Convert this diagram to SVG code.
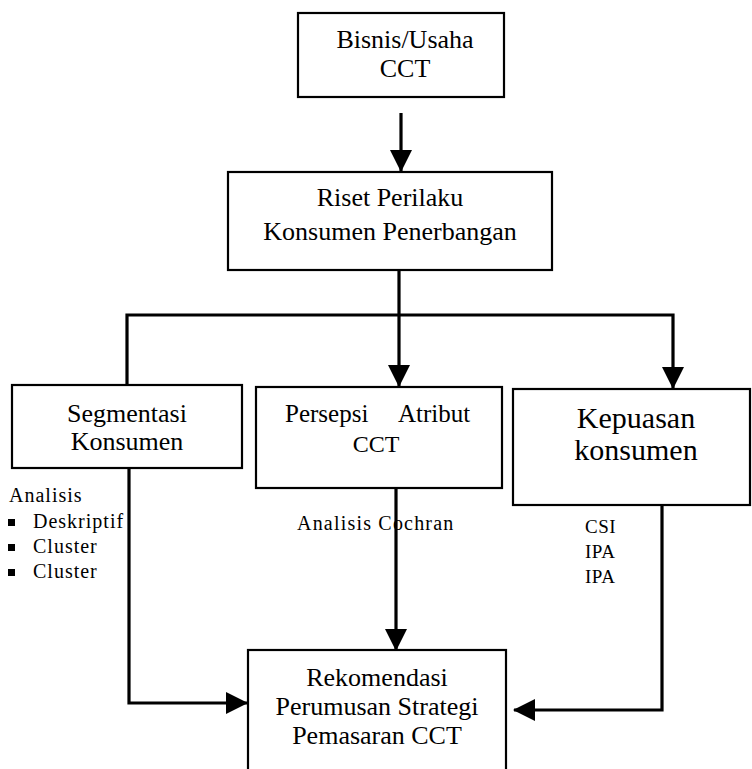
<svg xmlns="http://www.w3.org/2000/svg" width="752" height="769" viewBox="0 0 752 769">
<style>
.box{fill:#fff;stroke:#000;stroke-width:2.2}
.t{font-family:"Liberation Serif","Times New Roman",serif;fill:#000;text-anchor:middle}
.s{font-family:"Liberation Serif","Times New Roman",serif;fill:#000;font-size:20px;letter-spacing:1px}
.c{fill:none;stroke:#000;stroke-width:3.2}
</style>
<defs>
<marker id="ah" markerUnits="userSpaceOnUse" markerWidth="22" markerHeight="22" viewBox="0 0 22 22" refX="21" refY="11" orient="auto">
<polygon points="0,0 22,11 0,22" fill="#000"/>
</marker>
</defs>
<rect width="752" height="769" fill="#fff"/>
<g id="connectors">
<line class="c" x1="401" y1="113" x2="401" y2="171" marker-end="url(#ah)"/>
<line class="c" x1="399" y1="270" x2="399" y2="386" marker-end="url(#ah)"/>
<polyline class="c" points="127,384 127,315 673,315 673,388" marker-end="url(#ah)"/>
<polyline class="c" points="129,468 129,703 247,703" marker-end="url(#ah)"/>
<line class="c" x1="396" y1="488" x2="396" y2="650" marker-end="url(#ah)"/>
<polyline class="c" points="662,505 662,710 514,710" marker-end="url(#ah)"/>
</g>
<g id="n-bisnis">
<rect class="box" x="298" y="13" width="206" height="84"/>
<text class="t" x="405" y="48" font-size="26">Bisnis/Usaha</text>
<text class="t" x="405" y="77" font-size="26">CCT</text>
</g>
<g id="n-riset">
<rect class="box" x="228" y="172" width="324" height="98"/>
<text class="t" x="390" y="206" font-size="26">Riset Perilaku</text>
<text class="t" x="390" y="240" font-size="26">Konsumen Penerbangan</text>
</g>
<g id="n-segmentasi">
<rect class="box" x="12" y="385" width="230" height="83"/>
<text class="t" x="127" y="422" font-size="26">Segmentasi</text>
<text class="t" x="127" y="450" font-size="26">Konsumen</text>
</g>
<g id="n-persepsi">
<rect class="box" x="256" y="387" width="246" height="101"/>
<text font-family="Liberation Serif, Times New Roman, serif" font-size="25" fill="#000"><tspan x="285" y="422">Persepsi</tspan><tspan x="398" y="422">Atribut</tspan></text>
<text class="t" x="376" y="452" font-size="24">CCT</text>
</g>
<g id="n-kepuasan">
<rect class="box" x="513" y="389" width="237" height="116"/>
<text class="t" x="636" y="428" font-size="30">Kepuasan</text>
<text class="t" x="636" y="460" font-size="30">konsumen</text>
</g>
<g id="n-rekomendasi">
<rect class="box" x="248" y="650" width="258" height="130"/>
<text class="t" x="377" y="686" font-size="26">Rekomendasi</text>
<text class="t" x="377" y="715" font-size="26">Perumusan Strategi</text>
<text class="t" x="377" y="744" font-size="26">Pemasaran CCT</text>
</g>
<g id="label-analisis">
<text class="s" x="9" y="502">Analisis</text>
<rect x="8" y="519" width="7" height="7" fill="#000"/>
<rect x="8" y="544" width="7" height="7" fill="#000"/>
<rect x="8" y="569" width="7" height="7" fill="#000"/>
<text class="s" x="33" y="528">Deskriptif</text>
<text class="s" x="33" y="553">Cluster</text>
<text class="s" x="33" y="578">Cluster</text>
</g>
<g id="label-cochran">
<text class="s" x="297" y="530" style="letter-spacing:1.2px">Analisis Cochran</text>
</g>
<g id="label-csi">
<text class="s" x="585" y="533" style="font-size:19px;letter-spacing:0.5px">CSI</text>
<text class="s" x="585" y="558" style="font-size:19px;letter-spacing:0.5px">IPA</text>
<text class="s" x="585" y="583" style="font-size:19px;letter-spacing:0.5px">IPA</text>
</g>
</svg>
